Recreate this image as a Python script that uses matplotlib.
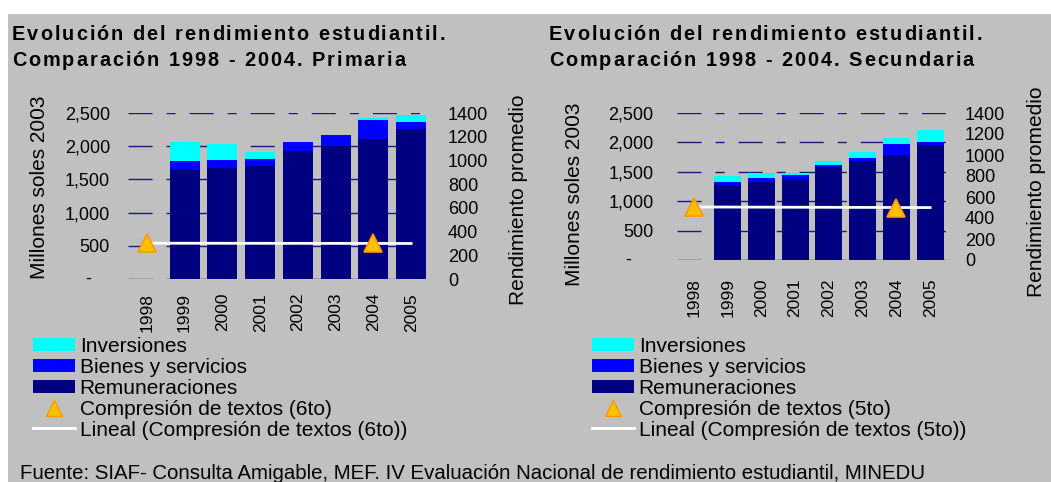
import matplotlib
matplotlib.use("Agg")
import matplotlib.pyplot as plt
import numpy as np
from matplotlib import font_manager
from matplotlib.ft2font import FT2Font
from matplotlib.patches import Rectangle, Patch
from matplotlib.lines import Line2D
from matplotlib.ticker import FuncFormatter

plt.rcParams["font.family"] = ["Liberation Sans", "DejaVu Sans"]
plt.rcParams["lines.scale_dashes"] = False

years = ["1998", "1999", "2000", "2001", "2002", "2003", "2004", "2005"]

# Primaria (millones soles 2003); 1998 sin datos
prim_remun = [0, 1645, 1675, 1705, 1931, 2007, 2108, 2264]
prim_bienes = [0, 136, 121, 106, 136, 166, 291, 105]
prim_inv = [0, 286, 241, 105, 0, 0, 31, 96]
prim_rend_years = ["1998", "2004"]
prim_rend = [302, 300]

# Secundaria
sec_remun = [0, 1278, 1330, 1369, 1574, 1688, 1790, 1949]
sec_bienes = [0, 57, 68, 74, 45, 51, 187, 62]
sec_inv = [0, 97, 74, 34, 69, 102, 103, 205]
sec_rend_years = ["1998", "2004"]
sec_rend = [505, 500]

C_REM = "#000080"
C_BIE = "#0000FF"
C_INV = "#00FFFF"
C_TRI = "#FFC000"
C_TRI_EDGE = "#FF9900"
BG = "#C0C0C0"

W, H = 1051, 482
DPI = 100
fig = plt.figure(figsize=(W / DPI, H / DPI), dpi=DPI)
fig.patch.set_facecolor("white")
fig.patches.append(Rectangle((8 / W, 0), 1 - 8 / W, (H - 14) / H,
                             transform=fig.transFigure, facecolor=BG,
                             edgecolor="none", zorder=-10))


def px(x, y):
    return x / W, 1 - y / H


def fmt_left(v, pos):
    return "" if v == 0 else f"{int(v):,}"


def tracked_text(x0, y0, s, size, track):
    # titles in the original have extra letter spacing
    path = font_manager.findfont(font_manager.FontProperties(
        family="Liberation Sans", weight="bold"))
    ft = FT2Font(path)
    ft.set_size(size, DPI)
    x = x0
    for ch in s:
        fig.text(*px(x, y0), ch, fontsize=size, fontweight="bold",
                 va="baseline", ha="left")
        x += ft.load_char(ord(ch)).linearHoriAdvance / 65536 + track


def draw_panel(rect, remun, bienes, inv, rend_years, rend, lpad, rpad, xpad,
               dash_off):
    ax = fig.add_axes(rect)
    ax.patch.set_alpha(0)
    x = np.arange(len(years))
    ax.bar(x, remun, width=0.8, color=C_REM, zorder=2)
    ax.bar(x, bienes, width=0.8, bottom=remun, color=C_BIE, zorder=2)
    base = np.array(remun) + np.array(bienes)
    ax.bar(x, inv, width=0.8, bottom=base, color=C_INV, zorder=2)
    ax.set_xlim(-0.5, len(years) - 0.5)
    ax.set_ylim(0, 2500)
    ax.set_yticks(np.arange(0, 2501, 500))
    ax.yaxis.set_major_formatter(FuncFormatter(fmt_left))
    ax.set_xticks(x)
    ax.set_xticklabels(years, rotation=90, fontsize=12.5)
    ax.tick_params(axis="y", length=0, pad=lpad, labelsize=13)
    ax.tick_params(axis="x", length=0, pad=xpad)
    ax.annotate("-", xy=(0, 0), xycoords=("axes fraction", "data"),
                xytext=(dash_off, 0), textcoords="offset pixels",
                ha="center", va="center", fontsize=13)
    ax.yaxis.grid(True, color="#1A1A80", linewidth=1.0,
                  linestyle=(0, (17.3, 10.1, 6.5, 10.1)), zorder=1)
    ax.set_axisbelow(True)
    for s in ax.spines.values():
        s.set_visible(False)

    ax2 = ax.twinx()
    ax2.set_ylim(0, 1400)
    ax2.set_yticks(np.arange(0, 1401, 200))
    ax2.tick_params(axis="y", length=0, pad=rpad, labelsize=13)
    for s in ax2.spines.values():
        s.set_visible(False)
    xi = np.array([years.index(y) for y in rend_years])
    coef = np.polyfit(xi, rend, 1)
    xt = np.array([0, len(years) - 1])
    ax2.plot(xt, np.polyval(coef, xt), color="white", linewidth=2, zorder=3)
    ax2.plot(xi, rend, linestyle="none", marker="^", markersize=13,
             markerfacecolor=C_TRI, markeredgecolor=C_TRI_EDGE,
             markeredgewidth=1.2, zorder=4)
    return ax, ax2


draw_panel([128 / W, (H - 279) / H, 302 / W, 166 / H],
           prim_remun, prim_bienes, prim_inv, prim_rend_years, prim_rend,
           13, 13, 10, -40)
draw_panel([677 / W, (H - 260) / H, 270 / W, 147 / H],
           sec_remun, sec_bienes, sec_inv, sec_rend_years, sec_rend,
           17, 13, 13, -49)

# titles
for x0, sub in [(12, "Primaria"), (549, "Secundaria")]:
    tracked_text(x0, 40, "Evolución del rendimiento estudiantil.", 14.3, 2.0)
    tracked_text(x0, 66, f"Comparación 1998 - 2004. {sub}", 14.3, 2.0)

# axis titles
fig.text(*px(40, 187), "Millones soles 2003", rotation=90, fontsize=15,
         ha="center", va="center")
fig.text(*px(519, 200), "Rendimiento promedio", rotation=90, fontsize=15,
         ha="center", va="center")
fig.text(*px(574, 194), "Millones soles 2003", rotation=90, fontsize=15,
         ha="center", va="center")
fig.text(*px(1036, 192), "Rendimiento promedio", rotation=90, fontsize=15,
         ha="center", va="center")

# legends
for x0, grade in [(33, "6to"), (592, "5to")]:
    handles = [
        Patch(facecolor=C_INV, edgecolor="none"),
        Patch(facecolor=C_BIE, edgecolor="none"),
        Patch(facecolor=C_REM, edgecolor="none"),
        Line2D([], [], linestyle="none", marker="^", markersize=11,
               markerfacecolor=C_TRI, markeredgecolor=C_TRI_EDGE),
        Line2D([], [], color="white", linewidth=2),
    ]
    labels = ["Inversiones", "Bienes y servicios", "Remuneraciones",
              f"Compresión de textos ({grade})",
              f"Lineal (Compresión de textos ({grade}))"]
    fig.legend(handles, labels, loc="upper left",
               bbox_to_anchor=px(x0, 337), frameon=False, fontsize=15,
               handlelength=2.0, handleheight=0.63, handletextpad=0.24,
               labelspacing=0.09, borderaxespad=0, borderpad=0)

fig.text(*px(20, 479), "Fuente: SIAF- Consulta Amigable, MEF. IV Evaluación "
         "Nacional de rendimiento estudiantil, MINEDU", fontsize=14.7,
         va="baseline", ha="left")

fig.savefig("out.png", dpi=DPI, facecolor=fig.get_facecolor())
